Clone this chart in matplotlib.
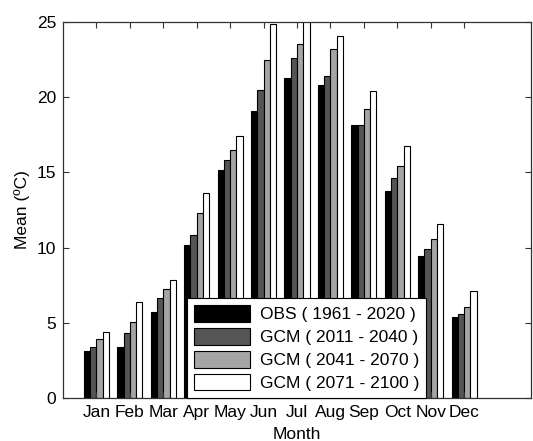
import matplotlib.pyplot as plt
import numpy as np

plt.rcParams['font.family'] = ['Liberation Sans', 'DejaVu Sans']

months = ['Jan', 'Feb', 'Mar', 'Apr', 'May', 'Jun',
          'Jul', 'Aug', 'Sep', 'Oct', 'Nov', 'Dec']
labels = ['OBS ( 1961 - 2020 )', 'GCM ( 2011 - 2040 )',
          'GCM ( 2041 - 2070 )', 'GCM ( 2071 - 2100 )']

obs = [3.1, 3.36, 5.75, 10.15, 15.17, 19.05, 21.3, 20.8, 18.15, 13.77, 9.44, 5.39]
gcm1 = [3.36, 4.33, 6.63, 10.83, 15.85, 20.47, 22.63, 21.4, 18.15, 14.63, 9.88, 5.57]
gcm2 = [3.89, 5.04, 7.25, 12.31, 16.47, 22.46, 23.52, 23.23, 19.23, 15.43, 10.59, 6.08]
gcm3 = [4.4, 6.35, 7.85, 13.6, 17.44, 24.85, 25.4, 24.05, 20.44, 16.76, 11.6, 7.14]

series = [obs, gcm1, gcm2, gcm3]
colors = ['#000000', '#555555', '#a5a5a5', '#ffffff']

fig = plt.figure(figsize=(5.33, 4.41), dpi=100)
ax = fig.add_axes([63 / 533, 1 - 398 / 441, 468 / 533, 376 / 441])

x = np.arange(1, len(months) + 1)
w = 0.1875
offsets = [-1.5 * w, -0.5 * w, 0.5 * w, 1.5 * w]
for vals, c, off, lab in zip(series, colors, offsets, labels):
    ax.bar(x + off, vals, width=w, color=c, edgecolor='black',
           linewidth=0.8, label=lab)

fs = 12.5
ax.set_xlim(0, 14)
ax.set_ylim(0, 25)
ax.set_xticks(x)
ax.set_xticklabels(months)
ax.set_yticks([0, 5, 10, 15, 20, 25])
ax.tick_params(direction='in', top=True, right=True, labelsize=fs,
               length=4, color='#333333', pad=5)
for s in ax.spines.values():
    s.set_color('#333333')
    s.set_linewidth(0.9)

ax.set_xlabel('Month', fontsize=fs, labelpad=5)
ax.set_ylabel('Mean (ºC)', fontsize=fs, labelpad=5)

leg = ax.legend(loc='lower left', bbox_to_anchor=(0.265, 0.0),
                borderaxespad=0,
                fontsize=fs, handlelength=3.2, handleheight=1.1,
                labelspacing=0.33, borderpad=0.4, handletextpad=0.6,
                fancybox=False, framealpha=1, edgecolor='black')
leg.get_frame().set_linewidth(0.8)

fig.savefig('out.png', dpi=100)
